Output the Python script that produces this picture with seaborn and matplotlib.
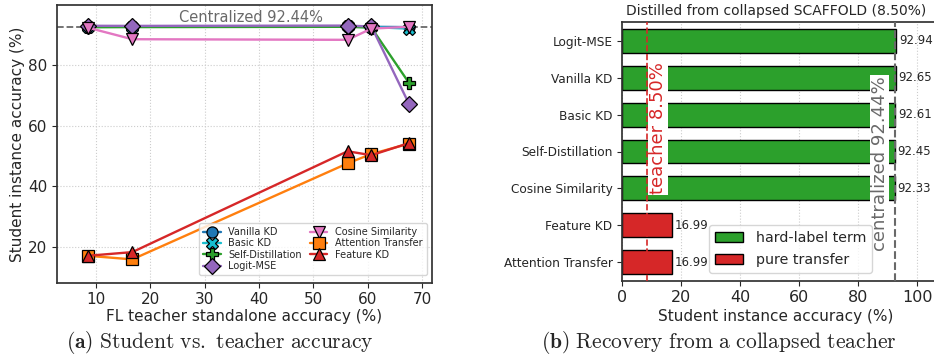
import matplotlib
matplotlib.use("Agg")
import matplotlib.pyplot as plt
import seaborn as sns
import pandas as pd
from matplotlib.patches import Patch

# ---------------- data ----------------
teacher_acc = [8.50, 16.70, 56.30, 60.70, 67.60]
methods = ["Vanilla KD", "Basic KD", "Self-Distillation", "Logit-MSE",
           "Cosine Similarity", "Attention Transfer", "Feature KD"]
vanilla_kd = [92.65, 92.70, 92.80, 92.60, 92.50]
basic_kd = [92.61, 92.60, 92.70, 92.50, 92.00]
self_distill = [92.45, 92.50, 92.60, 92.30, 74.10]
logit_mse = [92.94, 92.90, 93.00, 92.70, 67.20]
cosine_sim = [92.33, 88.50, 88.30, 92.00, 92.60]
attention_tr = [16.99, 15.80, 47.50, 50.60, 54.00]
feature_kd = [16.99, 18.20, 51.50, 50.20, 54.20]
centralized = 92.44

bar_methods = ["Logit-MSE", "Vanilla KD", "Basic KD", "Self-Distillation",
               "Cosine Similarity", "Feature KD", "Attention Transfer"]
bar_values = [92.94, 92.65, 92.61, 92.45, 92.33, 16.99, 16.99]
bar_types = ["hard-label term"] * 5 + ["pure transfer"] * 2
collapsed_teacher = 8.50

# ---------------- style ----------------
sns.set_theme(style="ticks", rc={"xtick.major.size": 3.5, "ytick.major.size": 3.5,
                                 "xtick.major.width": 0.8, "ytick.major.width": 0.8,
                                 "axes.edgecolor": "#333333"})
plt.rcParams["font.family"] = ["DejaVu Sans"]
plt.rcParams["mathtext.fontset"] = "cm"

W, H = 934, 354
fig = plt.figure(figsize=(W / 100, H / 100), dpi=100)

def px_axes(l, t, r, b):
    return fig.add_axes([l / W, 1 - b / H, (r - l) / W, (b - t) / H])

# ---------------- left panel ----------------
ax1 = px_axes(57.3, 5.3, 432.3, 282.7)
series = [vanilla_kd, basic_kd, self_distill, logit_mse, cosine_sim, attention_tr, feature_kd]
colors = ["tab:blue", "tab:cyan", "tab:green", "tab:purple", "tab:pink", "tab:orange", "tab:red"]
markers = ["o", "X", "P", "D", "v", "s", "^"]
ax1.axhline(centralized, color="dimgray", ls="--", lw=1.3, zorder=1)
for name, vals, c, m in zip(methods, series, colors, markers):
    df = pd.DataFrame({"teacher": teacher_acc, "student": vals})
    sns.lineplot(data=df, x="teacher", y="student", ax=ax1, color=c, marker=m,
                 markersize=8, markeredgecolor="black", markeredgewidth=0.9,
                 lw=1.7, label=name, zorder=3)
ax1.text(38.6, centralized + 0.6, f"Centralized {centralized:.2f}%", color="dimgray",
         fontsize=10.5, ha="center", va="bottom")
ax1.set_xlim(2.9, 71.9)
ax1.set_ylim(8.1, 99.7)
ax1.set_xticks([10, 20, 30, 40, 50, 60, 70])
ax1.set_yticks([20, 40, 60, 80])
ax1.tick_params(labelsize=11)
ax1.grid(True, ls=":", color="#cccccc", lw=0.8)
ax1.set_xlabel("")
ax1.set_ylabel("Student instance accuracy (%)", fontsize=11)
ax1.yaxis.set_label_coords(-0.087, 0.5)
ax1.legend(loc="lower right", ncol=2, fontsize=7, frameon=True, handlelength=1.8,
           columnspacing=0.8, labelspacing=0.15, borderpad=0.4,
           bbox_to_anchor=(0.99, 0.02), borderaxespad=0.2)
fig.text(244.5 / W, 1 - 317 / H, "FL teacher standalone accuracy (%)", fontsize=11,
         ha="center", va="center")

# ---------------- right panel ----------------
ax2 = px_axes(622.3, 22.3, 622.3 + 106 * 2.95, 280.7)
bdf = pd.DataFrame({"method": bar_methods, "acc": bar_values, "type": bar_types})
sns.barplot(data=bdf, y="method", x="acc", hue="type", orient="h", ax=ax2,
            palette={"hard-label term": "tab:green", "pure transfer": "tab:red"},
            dodge=False, width=0.65, edgecolor="black", linewidth=1.0, saturation=1,
            zorder=2)
for i, v in enumerate(bar_values):
    ax2.text(v + 0.8, i, f"{v:.2f}", fontsize=8.5, va="center", ha="left")
ax2.axvline(collapsed_teacher, color="tab:red", ls="--", lw=1.2, zorder=3)
ax2.axvline(centralized, color="dimgray", ls="--", lw=1.5, zorder=3)
ax2.text(collapsed_teacher + 0.6, 0.591, f"teacher {collapsed_teacher:.2f}%", rotation=90,
         color="tab:red", fontsize=13, ha="left", va="center",
         transform=ax2.get_xaxis_transform(), zorder=4,
         bbox=dict(facecolor="white", edgecolor="none", pad=0.5))
ax2.text(centralized - 2.2, 0.455, f"centralized {centralized:.2f}%", rotation=90,
         color="dimgray", fontsize=13, ha="right", va="center",
         transform=ax2.get_xaxis_transform(), zorder=4,
         bbox=dict(facecolor="white", edgecolor="none", pad=0.5))
ax2.set_xlim(0, 106)
ax2.set_xticks([0, 20, 40, 60, 80, 100])
ax2.tick_params(axis="x", labelsize=11.5)
ax2.tick_params(axis="y", labelsize=8.7)
ax2.grid(True, axis="x", ls=":", color="#cccccc", lw=0.8)
ax2.set_axisbelow(True)
ax2.set_ylabel("")
ax2.set_xlabel("")
ax2.set_title("Distilled from collapsed SCAFFOLD (8.50%)", fontsize=10, pad=5,
              x=(775.7 - 622.3) / (106 * 2.95))
handles = [Patch(facecolor="tab:green", edgecolor="black", label="hard-label term"),
           Patch(facecolor="tab:red", edgecolor="black", label="pure transfer")]
ax2.legend(handles=handles, loc="lower right", fontsize=10.2,
           bbox_to_anchor=((872 - 622.3) / (106 * 2.95), 0.03),
           borderaxespad=0, handlelength=2.0, labelspacing=0.6, handletextpad=0.9)
fig.text(775.7 / W, 1 - 316 / H, "Student instance accuracy (%)", fontsize=11,
         ha="center", va="center")

# ---------------- captions ----------------
fig.text(220 / W, 1 - 342 / H, r"$\mathbf{(a)}\ \mathrm{Student\ vs.\ teacher\ accuracy}$",
         fontsize=15.5, ha="center", va="center")
fig.text(719 / W, 1 - 342 / H, r"$\mathbf{(b)}\ \mathrm{Recovery\ from\ a\ collapsed\ teacher}$",
         fontsize=15.5, ha="center", va="center")

fig.savefig("out.png", dpi=100)
